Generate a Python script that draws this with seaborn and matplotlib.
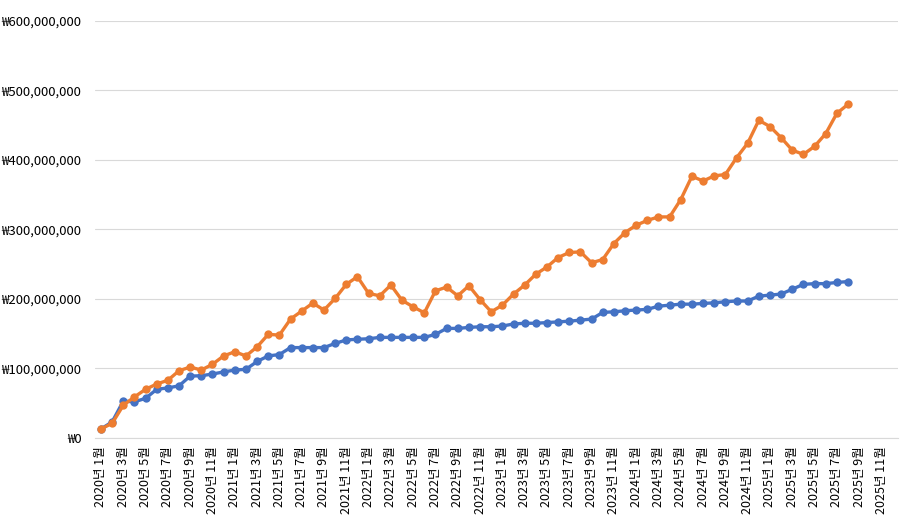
import matplotlib
matplotlib.use("Agg")
import matplotlib.pyplot as plt
import seaborn as sns
import pandas as pd
from matplotlib.ticker import FuncFormatter

# ---- data (values in millions of won) ----
months = [f"{y}년 {m}월" for y in range(2020, 2026) for m in range(1, 13)]

blue_vals = [13, 23, 53, 52, 57, 70, 72, 75, 89, 89.5, 92, 95,
             97.7, 98.7, 110, 118, 120, 130, 130, 130, 130, 136, 141, 142,
             142.7, 144.7, 144.7, 144.7, 144.7, 144.7, 149, 157.6, 157.6, 159, 160, 160,
             161, 164, 165, 165, 166, 167, 168, 169.5, 171, 180.6, 181.5, 183,
             184, 185, 189.6, 191, 192.5, 192.5, 193.5, 194.4, 196, 197, 197, 204,
             205.5, 207, 214, 221, 222, 222, 223.7, 225]

orange_vals = [13, 21, 47, 59, 70, 77.6, 83, 96.7, 102, 97.7, 106, 118,
               124, 118, 131, 149, 148, 171, 182.5, 194, 184, 200.7, 221, 232,
               208, 204.5, 220, 198, 188.6, 180, 211.7, 217, 204.5, 219, 199, 181.5,
               191, 207, 220, 235.6, 246, 259.6, 266.8, 267.7, 252, 256.7, 279.7, 295.5,
               306, 313, 318, 318, 343, 376.4, 369.7, 377, 379, 403, 424, 457,
               448, 432, 414, 408, 419.5, 437.8, 467, 480]

y_ticks = [0, 100, 200, 300, 400, 500, 600]

df = pd.DataFrame({
    "idx": list(range(len(blue_vals))) * 2,
    "value": [v * 1e6 for v in blue_vals] + [v * 1e6 for v in orange_vals],
    "series": ["A"] * len(blue_vals) + ["B"] * len(orange_vals),
})

sns.set_theme(style="white")
plt.rcParams["font.family"] = ["Noto Sans CJK KR", "DejaVu Sans"]

fig = plt.figure(figsize=(9, 5.22), dpi=100)
ax = fig.add_axes([0.106, 0.161, 0.892, 0.799])

sns.lineplot(data=df, x="idx", y="value", hue="series",
             palette={"A": "#4472C4", "B": "#ED7D31"},
             linewidth=2.4, marker="o", markersize=6, markeredgewidth=0,
             legend=False, ax=ax)

ax.set_xlim(-0.5, len(months) - 0.5)
ax.set_ylim(0, 600e6)
ax.set_yticks([v * 1e6 for v in y_ticks])
ax.yaxis.set_major_formatter(FuncFormatter(lambda v, p: f"₩{int(round(v)):,}"))
ax.set_xticks(range(0, len(months), 2))
ax.set_xticklabels(months[::2], rotation=90)
ax.tick_params(axis="both", length=0, colors="#000000")
ax.tick_params(axis="y", labelsize=9.5, pad=10)
ax.tick_params(axis="x", labelsize=9, pad=6)

ax.grid(axis="y", color="#D9D9D9", linewidth=0.8)
ax.set_axisbelow(True)
for s in ["top", "right", "left"]:
    ax.spines[s].set_visible(False)
ax.spines["bottom"].set_color("#D9D9D9")
ax.spines["bottom"].set_linewidth(0.8)
ax.set_xlabel("")
ax.set_ylabel("")

fig.savefig("out.png", dpi=100, facecolor="white")
